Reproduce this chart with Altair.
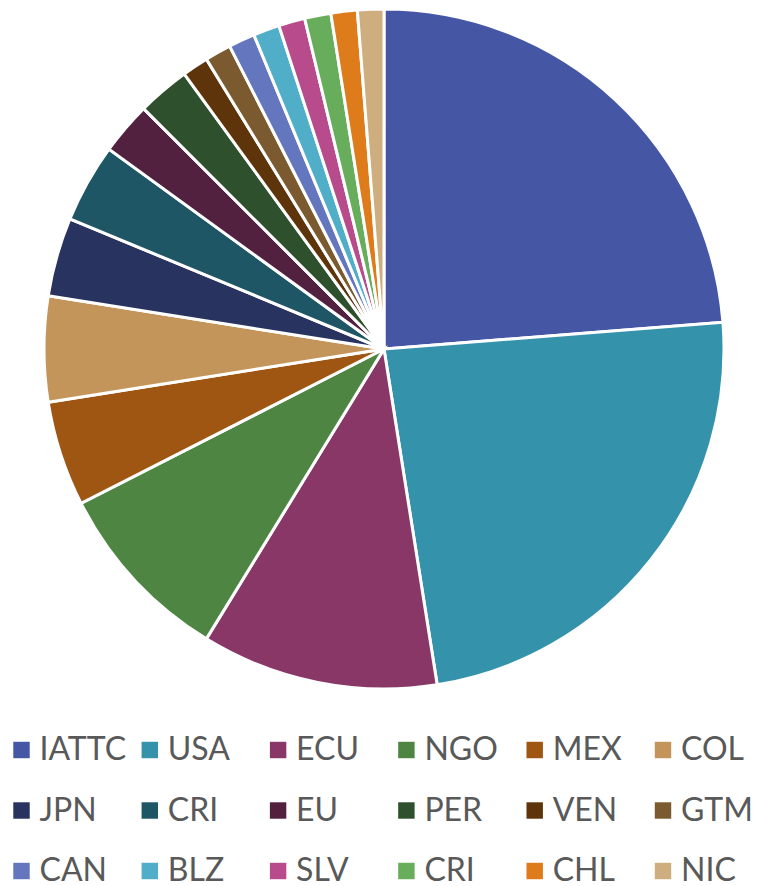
import altair as alt
import pandas as pd

keys = ["IATTC", "USA", "ECU", "NGO", "MEX", "COL", "JPN", "CRI", "EU", "PER",
        "VEN", "GTM", "CAN", "BLZ", "SLV", "CRI2", "CHL", "NIC"]
labels = ["IATTC", "USA", "ECU", "NGO", "MEX", "COL", "JPN", "CRI", "EU", "PER",
          "VEN", "GTM", "CAN", "BLZ", "SLV", "CRI", "CHL", "NIC"]
values = [19, 19, 9, 7, 4, 4, 3, 3, 2, 2, 1, 1, 1, 1, 1, 1, 1, 1]
colors = ["#4557A4", "#3592AB", "#893767", "#4E8542", "#A05613", "#C4955A",
          "#29335F", "#1E5666", "#52213F", "#2E502C", "#5E340B", "#7A5A2E",
          "#6376BE", "#50AEC8", "#B84B8B", "#67AD5B", "#DE7B1A", "#CEAE7E"]

n_cols = 6
df = pd.DataFrame({
    "key": keys,
    "label": labels,
    "value": values,
    "idx": list(range(len(keys))),
})
df["col"] = df["idx"] % n_cols
df["row"] = df["idx"] // n_cols

color = alt.Color("key:N", sort=keys,
                  scale=alt.Scale(domain=keys, range=colors), legend=None)

pie = alt.Chart(df).mark_arc(
    outerRadius=340, stroke="white", strokeWidth=3
).encode(
    theta=alt.Theta("value:Q", stack=True),
    order=alt.Order("idx:Q"),
    x=alt.value(376),
    y=alt.value(341),
    color=color,
)

lx = alt.X("col:Q", scale=alt.Scale(domain=[0, 5], range=[13.5, 655]), axis=None)
ly = alt.Y("row:Q", scale=alt.Scale(domain=[0, 2], range=[742, 863]), axis=None)

legend_sym = alt.Chart(df).mark_square(size=270, opacity=1, strokeWidth=0).encode(
    x=lx, y=ly, color=color
)
legend_txt = alt.Chart(df).mark_text(
    align="left", baseline="middle", dx=18, dy=0,
    font="Lato", fontSize=32, color="#595959"
).encode(x=lx, y=ly, text="label:N")

chart = alt.layer(pie, legend_sym, legend_txt).properties(
    width=745,
    height=878,
    autosize=alt.AutoSizeParams(type="none"),
    padding=0,
).configure_view(stroke=None)

chart.save("out.html", embed_options={"renderer": "svg", "actions": False})
